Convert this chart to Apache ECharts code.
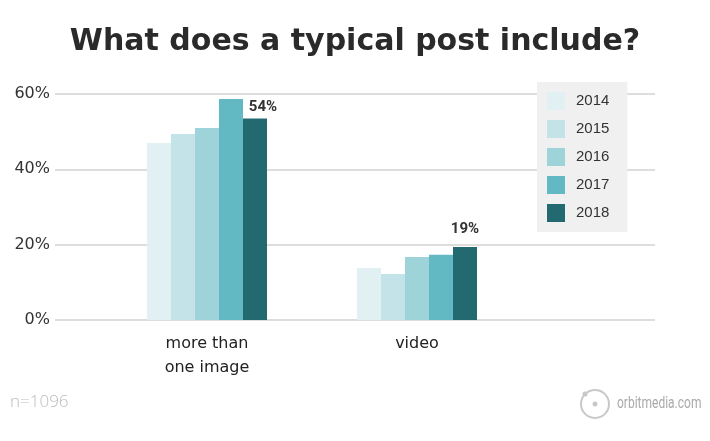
<!DOCTYPE html>
<html><head><meta charset="utf-8">
<script src="https://cdn.jsdelivr.net/npm/echarts@6/dist/echarts.min.js"></script>
<style>html,body{margin:0;padding:0;background:#fff}#c{width:710px;height:441px}</style>
</head><body><div id="c"></div>
<script>
const categories = ['more than\none image', 'video'];
const years = ['2014', '2015', '2016', '2017', '2018'];
const colors = ['#e0f0f3', '#c3e3e8', '#9fd3da', '#62b8c3', '#236a70'];
const v2014 = [47.0, 13.8];
const v2015 = [49.4, 12.2];
const v2016 = [51.0, 16.7];
const v2017 = [58.7, 17.3];
const v2018 = [53.5, 19.4];
const yTicks = [0, 20, 40, 60];
const valuesByYear = [v2014, v2015, v2016, v2017, v2018];

const chart = echarts.init(document.getElementById('c'), null, {renderer: 'canvas'});

const series = years.map((y, i) => {
  const s = {
    name: y, type: 'bar', xAxisIndex: 1, yAxisIndex: 1,
    barWidth: 24, barGap: '0%',
    itemStyle: {color: colors[i]},
    data: valuesByYear[i].map(v => ({value: v})),
    emphasis: {disabled: true}
  };
  if (i === years.length - 1) {
    s.label = {
      show: true, position: 'top', distance: 6,
      formatter: p => Math.round(p.value) + '%',
      fontFamily: 'Roboto, sans-serif', fontWeight: 'bold', fontSize: 15, color: '#333'
    };
    s.data[0].label = {offset: [8, 0], distance: 4};
    s.data[1].label = {distance: 10};
  }
  return s;
});

chart.setOption({
  animation: false,
  title: {
    text: 'What does a typical post include?', left: 'center', top: 22,
    textStyle: {fontFamily: '"DejaVu Sans", sans-serif', fontWeight: 'bold', fontSize: 30, color: '#2a2a2a'}
  },
  legend: {
    orient: 'vertical', left: 537, top: 82,
    padding: [10, 18, 10, 10], backgroundColor: '#f0f0f0',
    itemWidth: 18, itemHeight: 18, itemGap: 10,
    icon: 'rect',
    textStyle: {fontFamily: '"Liberation Sans", Arial, sans-serif', fontSize: 15, color: '#333', padding: [0, 0, 0, 6]},
    data: years
  },
  grid: [
    {left: 55, right: 55, top: 94, bottom: 121},
    {left: 102, width: 420, top: 94, bottom: 121}
  ],
  xAxis: [
    {gridIndex: 0, type: 'value', min: 0, max: 1, show: true,
     axisLine: {show: false}, axisTick: {show: false}, axisLabel: {show: false}, splitLine: {show: false}},
    {gridIndex: 1, type: 'category', data: categories,
     axisLine: {show: false}, axisTick: {show: false},
     axisLabel: {fontFamily: '"DejaVu Sans", sans-serif', fontSize: 16, color: '#222', lineHeight: 24, margin: 12}}
  ],
  yAxis: [
    {gridIndex: 0, type: 'value', min: 0, max: 60, interval: 20,
     axisLine: {show: false}, axisTick: {show: false},
     axisLabel: {formatter: v => yTicks.includes(v) ? v + '%' : '', fontFamily: '"DejaVu Sans", sans-serif', fontSize: 16, color: '#333', margin: 5},
     splitLine: {lineStyle: {color: '#dddddd', width: 2}}},
    {gridIndex: 1, type: 'value', min: 0, max: 60, interval: 20, show: false, splitLine: {show: false}}
  ],
  series: series,
  graphic: [
    {type: 'text', left: 10, top: 394, style: {text: 'n=1096', fontFamily: '"Open Sans", sans-serif', fontWeight: 300, fontSize: 17, fill: '#bbbbbb'}},
    {type: 'circle', shape: {cx: 595, cy: 404, r: 14}, style: {fill: 'none', stroke: '#c8c8c8', lineWidth: 2}},
    {type: 'circle', shape: {cx: 595, cy: 404, r: 2.5}, style: {fill: '#c8c8c8'}},
    {type: 'circle', shape: {cx: 585, cy: 394, r: 2.5}, style: {fill: '#c8c8c8'}},
    {type: 'text', x: 617, y: 404, scaleX: 0.75, style: {text: 'orbitmedia.com', x: 0, y: 0, verticalAlign: 'middle', fontFamily: 'Roboto, sans-serif', fontSize: 16, fill: '#aaaaaa'}}
  ]
});
</script></body></html>
